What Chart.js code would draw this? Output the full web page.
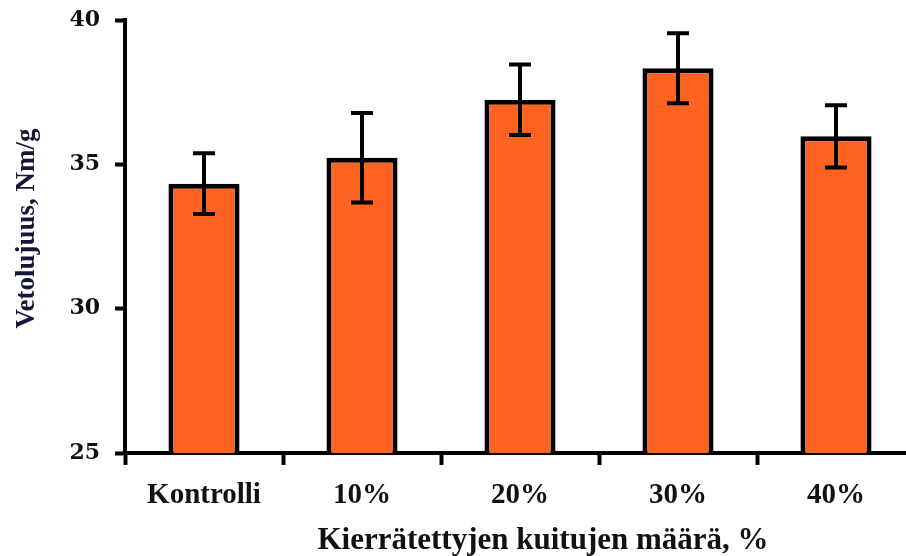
<!DOCTYPE html>
<html>
<head>
<meta charset="utf-8">
<script src="https://cdn.jsdelivr.net/npm/chart.js@4.4.0/dist/chart.umd.min.js"></script>
<style>
  html, body { margin: 0; padding: 0; background: #fff; overflow: hidden; }
  #kaavio { display: block; }
</style>
</head>
<body>
<canvas id="kaavio"></canvas>
<script>
// Aineisto
const kategoriat = ["Kontrolli", "10%", "20%", "30%", "40%"];
const vetolujuus = [34.33, 35.23, 37.24, 38.33, 35.97];
const keskihajonta = [1.05, 1.55, 1.22, 1.21, 1.08];
const yTikit = [25, 30, 35, 40];
const xOtsikko = "Kierrätettyjen kuitujen määrä, %";
const yOtsikko = "Vetolujuus, Nm/g";

const canvas = document.getElementById("kaavio");
const ctx = canvas.getContext("2d");

// kiinteä koko, oikea reuna jää hieman kuvan ulkopuolelle kuten alkuperäisessä
canvas.width = 918;
canvas.height = 556;

const serif = "'Liberation Serif', 'Times New Roman', serif";

// virhepalkit piirretään y-akselin skaalalla
const virhepalkit = {
  id: "virhepalkit",
  afterDatasetsDraw(chart) {
    const y = chart.scales.y;
    const meta = chart.getDatasetMeta(0);
    const c = chart.ctx;
    c.save();
    c.strokeStyle = "#000";
    c.lineWidth = 4;
    meta.data.forEach((bar, i) => {
      const ylä = y.getPixelForValue(vetolujuus[i] + keskihajonta[i]);
      const ala = y.getPixelForValue(vetolujuus[i] - keskihajonta[i]);
      c.beginPath();
      c.moveTo(bar.x, ylä);
      c.lineTo(bar.x, ala);
      c.moveTo(bar.x - 11, ylä);
      c.lineTo(bar.x + 11, ylä);
      c.moveTo(bar.x - 11, ala);
      c.lineTo(bar.x + 11, ala);
      c.stroke();
    });
    c.restore();
  }
};

// akselien otsikot (alkuperäisessä x-otsikko ei ole keskellä)
const otsikot = {
  id: "otsikot",
  afterDraw(chart) {
    const c = chart.ctx;
    const a = chart.chartArea;
    c.save();
    c.textAlign = "center";
    c.textBaseline = "middle";
    c.fillStyle = "#111";
    c.font = "bold 31px " + serif;
    c.fillText(xOtsikko, (a.left + a.right) / 2 + 23, 541);
    c.translate(27, (a.top + a.bottom) / 2 - 8);
    c.rotate(-Math.PI / 2);
    c.fillStyle = "#16163a";
    c.font = "bold 27px " + serif;
    c.fillText(yOtsikko, 0, 0);
    c.restore();
  }
};

new Chart(ctx, {
  type: "bar",
  data: {
    labels: kategoriat,
    datasets: [{
      data: vetolujuus,
      backgroundColor: "#FF6321",
      borderColor: "#000",
      borderWidth: 5,
      borderSkipped: false,
      barPercentage: 0.9,
      categoryPercentage: 0.5
    }]
  },
  options: {
    responsive: false,
    animation: false,
    devicePixelRatio: 1,
    layout: { padding: { top: 20, right: 3, left: 0, bottom: 0 } },
    plugins: {
      legend: { display: false },
      tooltip: { enabled: false }
    },
    scales: {
      x: {
        offset: true,
        grid: {
          offset: true,
          drawOnChartArea: false,
          drawTicks: true,
          tickLength: 12,
          tickWidth: 4,
          tickColor: "#000"
        },
        border: { color: "#000", width: 4 },
        ticks: {
          color: "#111",
          padding: 13,
          font: { family: serif, size: 29, weight: "bold" }
        },
        title: { display: false },
        afterFit(scale) {
          scale.height = 103;
          scale.paddingLeft = 0;
          scale.paddingRight = 0;
        }
      },
      y: {
        min: 25,
        max: 40,
        afterBuildTicks(scale) { scale.ticks = yTikit.map(v => ({ value: v })); },
        grid: {
          drawOnChartArea: false,
          drawTicks: true,
          tickLength: 10,
          tickWidth: 4,
          tickColor: "#000"
        },
        border: { color: "#000", width: 4 },
        ticks: {
          color: "#111",
          padding: 15,
          font: { family: "'DejaVu Serif', serif", size: 22, weight: "bold" }
        },
        title: { display: false },
        afterFit(scale) {
          scale.width = 125;
          scale.paddingTop = 0;
          scale.paddingBottom = 0;
        }
      }
    }
  },
  plugins: [virhepalkit, otsikot]
});
</script>
</body>
</html>
